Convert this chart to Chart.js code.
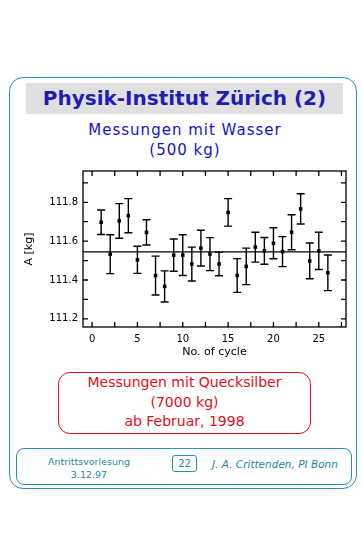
<!DOCTYPE html>
<html>
<head>
<meta charset="utf-8">
<script src="https://cdn.jsdelivr.net/npm/chart.js@4.4.0/dist/chart.umd.min.js"></script>
<style>
  html, body { margin: 0; padding: 0; background: #fff; }
  body { width: 363px; height: 535px; position: relative; overflow: hidden; font-family: "DejaVu Sans", sans-serif; }
  .abs { position: absolute; }
  #frame { left: 9px; top: 77px; width: 346px; height: 410px; border: 1.5px solid #2a92b4; border-radius: 14px; }
  #band { left: 26px; top: 83px; width: 317px; height: 31px; background: #e0e0e0; }
  #title { left: 0; width: 369px; top: 84px; line-height: 29px; text-align: center; font-weight: bold; font-size: 20px; color: #1e1eb0; }
  #sub { left: 0; width: 370px; top: 120px; line-height: 20px; text-align: center; font-size: 15px; letter-spacing: 1px; color: #1414c4; }
  #redbox { left: 58px; top: 372px; width: 251px; height: 60px; border: 1.3px solid #e0101a; border-radius: 12px; }
  #redtxt { left: 0; width: 369px; top: 373px; line-height: 19.5px; text-align: center; font-size: 14px; color: #e0101a; }
  #foot { left: 16px; top: 448px; width: 334px; height: 35px; border: 1.3px solid #2a92b4; border-radius: 8px; }
  #ftl { left: 40px; width: 98px; top: 455px; line-height: 13px; text-align: center; font-size: 9.5px; color: #1f86a8; }
  #page { left: 172px; top: 455px; width: 23px; height: 15px; border: 1.2px solid #2a92b4; border-radius: 3px; line-height: 15px; text-align: center; font-size: 10px; color: #1f86a8; }
  #ftr { left: 212px; top: 457px; line-height: 14px; font-size: 10.5px; font-style: italic; color: #1f86a8; white-space: nowrap; }
  #c { left: 0; top: 160px; }
</style>
</head>
<body>
<div class="abs" id="frame"></div>
<div class="abs" id="band"></div>
<div class="abs" id="title">Physik-Institut Zürich (2)</div>
<div class="abs" id="sub">Messungen mit Wasser<br>(500 kg)</div>
<canvas class="abs" id="c" width="363" height="210"></canvas>
<div class="abs" id="redbox"></div>
<div class="abs" id="redtxt">Messungen mit Quecksilber<br>(7000 kg)<br>ab Februar, 1998</div>
<div class="abs" id="foot"></div>
<div class="abs" id="ftl">Antrittsvorlesung<br>3.12.97</div>
<div class="abs" id="page">22</div>
<div class="abs" id="ftr">J. A. Crittenden, PI Bonn</div>
<script>
// measurement cycles and weighed mass A [kg] with symmetric errors
const cycles = [1, 2, 3, 4, 5, 6, 7, 8, 9, 10, 11, 12, 13, 14, 15, 16, 17, 18, 19, 20, 21, 22, 23, 24, 25, 26];
const massValues = [111.697, 111.533, 111.704, 111.731, 111.504, 111.645, 111.423, 111.367, 111.528, 111.528,
  111.482, 111.564, 111.533, 111.482, 111.748, 111.423, 111.470, 111.569, 111.550, 111.589,
  111.546, 111.646, 111.766, 111.498, 111.550, 111.437];
const massErrors = [0.063, 0.100, 0.089, 0.088, 0.070, 0.065, 0.100, 0.080, 0.083, 0.105,
  0.087, 0.092, 0.085, 0.060, 0.071, 0.087, 0.094, 0.077, 0.069, 0.080,
  0.077, 0.090, 0.078, 0.092, 0.096, 0.092];
const meanValue = 111.545;
const xTicks = [0, 5, 10, 15, 20, 25];
const yTicks = [111.2, 111.4, 111.6, 111.8];
const xRange = [-1, 28];
const yRange = [111.158, 111.961];

const tickFont = { family: "DejaVu Sans", size: 10 };
const titleFont = { family: "DejaVu Sans", size: 11 };

// error bars, box frame and inward ticks on all four sides
const frameAndErrors = {
  id: "frameAndErrors",
  afterDatasetsDraw(chart) {
    const { ctx, chartArea: a, scales: { x, y } } = chart;
    ctx.save();
    ctx.strokeStyle = "#000";
    ctx.lineWidth = 1.4;
    cycles.forEach((c, i) => {
      const px = x.getPixelForValue(c);
      const top = y.getPixelForValue(massValues[i] + massErrors[i]);
      const bot = y.getPixelForValue(massValues[i] - massErrors[i]);
      ctx.beginPath();
      ctx.moveTo(px, top); ctx.lineTo(px, bot);
      ctx.moveTo(px - 4, top); ctx.lineTo(px + 4, top);
      ctx.moveTo(px - 4, bot); ctx.lineTo(px + 4, bot);
      ctx.stroke();
    });
    ctx.lineWidth = 1.3;
    ctx.strokeRect(a.left, a.top, a.right - a.left, a.bottom - a.top);
    ctx.beginPath();
    for (let k = 0; k <= 11; k++) {
      const px = x.getPixelForValue(k * 2.5);
      ctx.moveTo(px, a.bottom); ctx.lineTo(px, a.bottom - 5);
      ctx.moveTo(px, a.top); ctx.lineTo(px, a.top + 5);
    }
    for (let k = 0; k <= 7; k++) {
      const py = y.getPixelForValue(111.2 + k * 0.1);
      ctx.moveTo(a.left, py); ctx.lineTo(a.left + 5, py);
      ctx.moveTo(a.right, py); ctx.lineTo(a.right - 5, py);
    }
    ctx.stroke();
    ctx.restore();
  }
};

new Chart(document.getElementById("c"), {
  type: "scatter",
  data: {
    datasets: [
      {
        data: cycles.map((c, i) => ({ x: c, y: massValues[i] })),
        pointStyle: "rect",
        pointRadius: 2.5,
        backgroundColor: "#000",
        borderColor: "#000",
        borderWidth: 0
      },
      {
        type: "line",
        data: [{ x: xRange[0], y: meanValue }, { x: xRange[1], y: meanValue }],
        borderColor: "#000",
        borderWidth: 1.3,
        pointRadius: 0
      }
    ]
  },
  options: {
    responsive: false,
    animation: false,
    devicePixelRatio: 1,
    layout: { padding: { left: 0, top: 9, right: 17, bottom: 0 } },
    plugins: { legend: { display: false }, tooltip: { enabled: false } },
    scales: {
      x: {
        type: "linear",
        min: xRange[0],
        max: xRange[1],
        grid: { display: false, drawTicks: false },
        border: { display: false },
        afterBuildTicks: (s) => { s.ticks = xTicks.map((v) => ({ value: v })); },
        afterFit: (s) => { s.height = 43; },
        ticks: { color: "#000", font: tickFont, padding: 6, maxRotation: 0 },
        title: { display: true, text: "No. of cycle", color: "#000", font: titleFont, padding: { top: 0, bottom: 11 } }
      },
      y: {
        min: yRange[0],
        max: yRange[1],
        grid: { display: false, drawTicks: false },
        border: { display: false },
        afterBuildTicks: (s) => { s.ticks = yTicks.map((v) => ({ value: v })); },
        afterFit: (s) => { s.width = 83; },
        ticks: { color: "#000", font: tickFont, padding: 5, callback: (v) => v.toFixed(1) },
        title: { display: true, text: "A [kg]", color: "#000", font: titleFont, padding: { top: 23, bottom: 0 } }
      }
    }
  },
  plugins: [frameAndErrors]
});
</script>
</body>
</html>
